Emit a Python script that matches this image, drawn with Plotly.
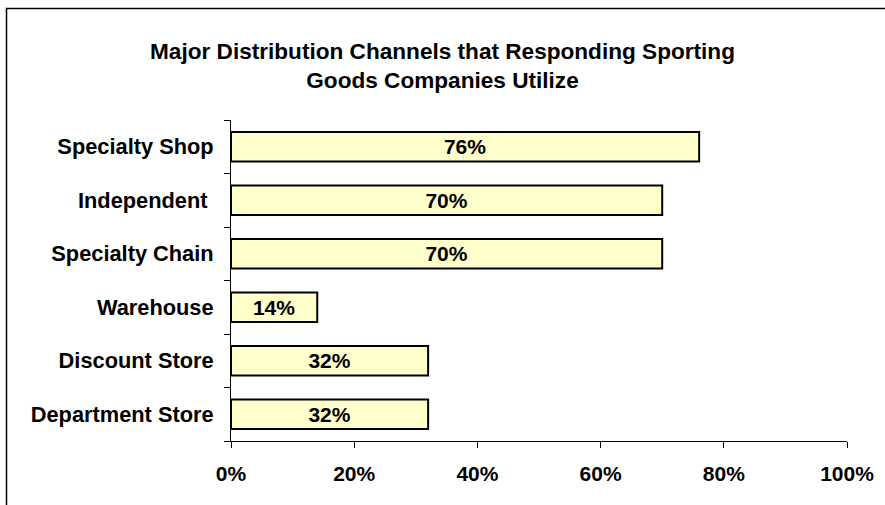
import plotly.graph_objects as go

# Distribution channels, listed bottom to top as plotted
channels = ["Department Store", "Discount Store", "Warehouse",
            "Specialty Chain", "Independent ", "Specialty Shop"]
share_pct = [32, 32, 14, 70, 70, 76]

x_ticks = [0, 20, 40, 60, 80, 100]
x_tick_text = ["0%", "20%", "40%", "60%", "80%", "100%"]

FONT = "Liberation Sans, Arial, sans-serif"

W, H = 885, 505
L, R, T, B = 231, 38, 120, 64
plot_w = W - L - R
plot_h = H - T - B

fig = go.Figure(
    go.Bar(
        x=share_pct,
        y=channels,
        orientation="h",
        width=0.55,
        marker=dict(color="#FFFFCC", line=dict(color="#000000", width=2)),
        text=[f"{v}%" for v in share_pct],
        textposition="inside",
        insidetextanchor="middle",
        constraintext="none",
        textfont=dict(family=FONT, size=21, color="#000000", weight="bold"),
        cliponaxis=False,
        hoverinfo="skip",
    )
)

# Outer chart frame (runs off the right and bottom edges)
fx0 = (6.5 - L) / plot_w
fy1 = (H - B - 8.5) / plot_h
fig.add_shape(type="rect", xref="paper", yref="paper",
              x0=fx0, x1=1.2, y0=-0.5, y1=fy1,
              line=dict(color="#000000", width=1.5), fillcolor="rgba(0,0,0,0)",
              layer="below")

fig.update_layout(
    width=W, height=H,
    margin=dict(l=L, r=R, t=T, b=B, pad=0),
    paper_bgcolor="white",
    plot_bgcolor="white",
    showlegend=False,
    font=dict(family=FONT, color="#000000"),
    title=dict(
        text="Major Distribution Channels that Responding Sporting<br>Goods Companies Utilize",
        font=dict(family=FONT, size=22.6, color="#000000", weight="bold"),
        xref="container", x=0.5, xanchor="center",
        yref="container", y=1 - 58.5 / H, yanchor="middle",
    ),
    xaxis=dict(
        range=[0, 100],
        tickvals=x_ticks,
        ticktext=x_tick_text,
        showgrid=False,
        zeroline=False,
        showline=True, linecolor="#000000", linewidth=1,
        ticks="outside", ticklen=6, tickcolor="#000000", tickwidth=1,
        tickfont=dict(family=FONT, size=21, color="#000000", weight="bold"),
        ticklabelstandoff=8,
        fixedrange=True,
    ),
    yaxis=dict(
        categoryorder="array", categoryarray=channels,
        range=[-0.5, 5.5],
        showgrid=False,
        zeroline=False,
        showline=True, linecolor="#000000", linewidth=1,
        ticks="outside", ticklen=6, tickcolor="#000000", tickwidth=1,
        tickson="boundaries",
        tickfont=dict(family=FONT, size=21.8, color="#000000", weight="bold"),
        ticklabelstandoff=12,
        fixedrange=True,
    ),
)

fig.write_html("out.html", config={"displayModeBar": False})
